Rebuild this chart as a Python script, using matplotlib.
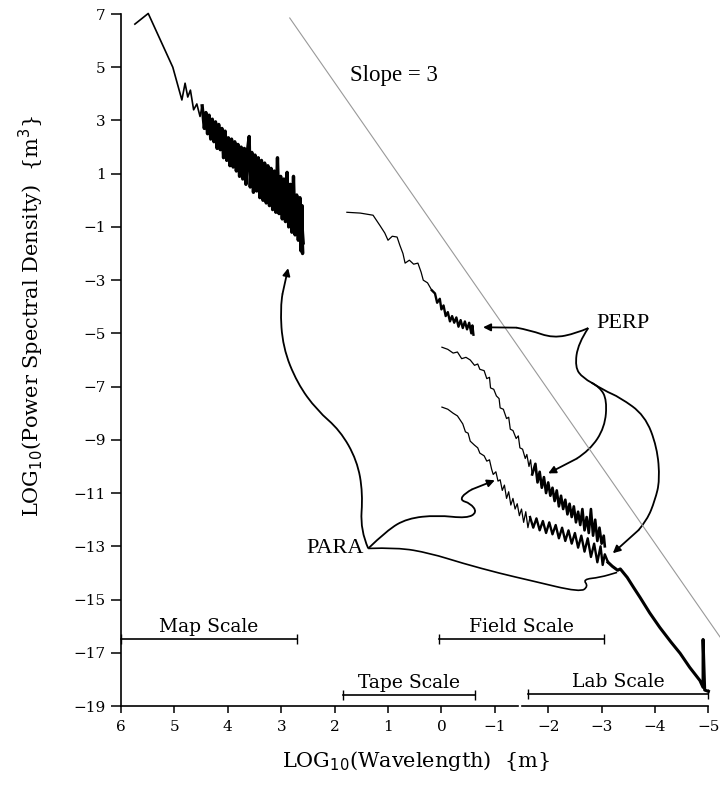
import numpy as np
import matplotlib
matplotlib.use('Agg')
import matplotlib.pyplot as plt
from matplotlib.path import Path
from matplotlib.patches import PathPatch

# ---- data (log10 wavelength, log10 PSD) ----
# map scale spectrum (noisy band)
map_x = [5.74, 5.49, 5.03, 4.86, 4.80, 4.75, 4.70, 4.64, 4.58, 4.52, 4.48,
         4.44, 4.41, 4.38, 4.35, 4.32, 4.29, 4.26, 4.23, 4.20, 4.17, 4.14, 4.11,
         4.08, 4.05, 4.02, 3.99, 3.96, 3.93, 3.90, 3.87, 3.84, 3.81, 3.78, 3.75,
         3.72, 3.69, 3.66, 3.63, 3.60, 3.58, 3.55, 3.52, 3.49, 3.46, 3.43, 3.40,
         3.37, 3.34, 3.31, 3.28, 3.25, 3.22, 3.19, 3.16, 3.13, 3.10, 3.07, 3.04,
         3.01, 2.98, 2.95, 2.92, 2.89, 2.86, 2.83, 2.80, 2.77, 2.74, 2.71, 2.68,
         2.65, 2.63, 2.61, 2.60, 2.62, 2.59]
map_y = [6.62, 7.02, 5.00, 3.77, 4.40, 3.88, 4.14, 3.40, 3.62, 3.15, 3.55,
         2.70, 3.30, 2.50, 3.20, 2.30, 3.05, 2.20, 2.95, 1.95, 2.85, 1.90, 2.70,
         1.60, 2.60, 1.50, 2.35, 1.30, 2.30, 1.25, 2.20, 1.10, 2.10, 0.90, 2.00,
         0.80, 1.95, 0.60, 1.90, 2.40, 0.50, 1.80, 0.30, 1.70, 0.35, 1.60, 0.10,
         1.50, 0.00, 1.40, -0.10, 1.30, -0.20, 1.20, -0.35, 1.10, -0.45, 1.60, -0.50,
         0.90, -0.70, 0.80, -0.80, 1.05, -1.00, 0.60, -1.20, 0.90, -1.30, 0.20, -1.50,
         0.10, -1.90, -0.20, -2.00, -0.60, -1.60]

# field scale spectrum (upper)
field_x = [1.77, 1.52, 1.28, 1.15, 1.06, 1.00, 0.92, 0.83, 0.78, 0.72, 0.68,
           0.60, 0.52, 0.44, 0.38, 0.34, 0.26, 0.18, 0.12, 0.08, 0.03, 0.00,
           -0.04, -0.08, -0.12, -0.16, -0.20, -0.24, -0.28, -0.32, -0.36, -0.40,
           -0.44, -0.48, -0.52, -0.56, -0.58, -0.60]
field_y = [-0.45, -0.48, -0.56, -0.95, -1.23, -1.50, -1.35, -1.38, -1.68, -2.00, -2.36,
           -2.25, -2.40, -2.36, -2.70, -3.00, -3.10, -3.38, -3.50, -3.85, -3.70, -4.10,
           -3.95, -4.35, -4.20, -4.55, -4.35, -4.60, -4.40, -4.75, -4.50, -4.80,
           -4.55, -4.85, -4.60, -5.00, -4.70, -5.05]

# tape / lab spectrum (middle)
mid_x = [-0.01, -0.12, -0.22, -0.30, -0.38, -0.46, -0.54, -0.62, -0.68, -0.72,
         -0.80, -0.85, -0.90, -0.92, -0.98, -1.03, -1.08, -1.10, -1.16, -1.22,
         -1.26, -1.29, -1.34, -1.40, -1.44, -1.47, -1.52, -1.57, -1.60, -1.64,
         -1.67, -1.70, -1.76, -1.80, -1.84, -1.88, -1.92, -1.96, -2.00, -2.04,
         -2.08, -2.12, -2.16, -2.20, -2.24, -2.28, -2.32, -2.36, -2.40, -2.44,
         -2.48, -2.52, -2.56, -2.60, -2.64, -2.68, -2.72, -2.76, -2.80, -2.84,
         -2.88, -2.92, -2.96, -3.00, -3.04, -3.06]
mid_y = [-5.52, -5.60, -5.74, -5.70, -5.95, -5.90, -6.00, -6.20, -6.15, -6.35,
         -6.40, -6.70, -6.65, -7.05, -7.10, -7.35, -7.45, -7.80, -7.85, -8.20,
         -8.15, -8.60, -8.65, -8.95, -8.85, -9.30, -9.35, -9.70, -9.55, -10.00,
         -9.75, -10.30, -9.90, -10.60, -10.20, -10.80, -10.40, -11.00, -10.60, -11.10,
         -10.80, -11.30, -10.90, -11.50, -11.10, -11.60, -11.25, -11.80, -11.40, -11.90,
         -11.50, -12.10, -11.70, -12.20, -11.60, -12.40, -11.90, -12.50, -11.60, -12.60,
         -12.00, -12.80, -12.30, -12.90, -12.60, -13.00]

# tape / lab spectrum (lower, continues to lab scale)
low_x = [-0.01, -0.12, -0.22, -0.30, -0.40, -0.45, -0.50, -0.54, -0.62, -0.68,
         -0.72, -0.80, -0.85, -0.90, -0.94, -0.97, -1.02, -1.06, -1.10, -1.14,
         -1.18, -1.22, -1.26, -1.30, -1.34, -1.38, -1.42, -1.46, -1.50, -1.54,
         -1.58, -1.62, -1.66, -1.72, -1.78, -1.84, -1.90, -1.96, -2.02, -2.08,
         -2.14, -2.20, -2.26, -2.32, -2.38, -2.44, -2.50, -2.56, -2.62, -2.68,
         -2.74, -2.80, -2.86, -2.92, -2.98, -3.02, -3.06, -3.12, -3.20, -3.30,
         -3.35, -3.48, -3.60, -3.72, -3.90, -4.09, -4.30, -4.47, -4.65, -4.84,
         -4.90, -4.90, -4.93, -5.00]
low_y = [-7.77, -7.85, -8.00, -8.10, -8.40, -8.70, -8.75, -9.05, -9.20, -9.30,
         -9.50, -9.60, -9.80, -9.75, -10.10, -10.30, -10.20, -10.55, -10.50, -10.90,
         -10.70, -11.20, -10.95, -11.45, -11.20, -11.60, -11.40, -11.85, -11.60, -12.10,
         -11.70, -12.30, -11.90, -12.30, -11.95, -12.40, -12.05, -12.50, -12.10, -12.55,
         -12.20, -12.70, -12.30, -12.80, -12.40, -12.90, -12.50, -13.05, -12.60, -13.20,
         -12.70, -13.40, -12.90, -13.60, -13.00, -13.70, -13.30, -13.60, -13.75, -13.90,
         -13.85, -14.17, -14.55, -14.92, -15.50, -16.05, -16.60, -17.02, -17.55, -18.04,
         -18.30, -16.50, -18.40, -18.45]

# reference line, slope = 3
slope_x = [2.84, -5.25]
slope_y = [6.85, -16.50]

# measurement scale ranges
scale_names = ['Map Scale', 'Field Scale', 'Tape Scale', 'Lab Scale']
scale_left = [6.0, 0.05, 1.85, -1.63]
scale_right = [2.70, -3.05, -0.63, -5.0]
scale_level = [-16.5, -16.5, -18.6, -18.55]

# annotation arrows (label -> spectrum), hand-drawn style
perp_arrows = [
    ([-2.75, -2.54, -2.09, -1.66, -1.15, -0.78],
     [-4.80, -4.99, -5.18, -4.88, -4.69, -4.77]),
    ([-2.75, -2.56, -2.50, -2.65, -2.97, -3.10, -3.06, -2.78, -2.28, -2.00],
     [-4.80, -5.37, -6.27, -6.68, -7.02, -7.51, -8.53, -9.39, -10.03, -10.26]),
    ([-2.81, -3.05, -3.34, -3.81, -4.04, -4.09, -4.00, -3.85, -3.53, -3.21],
     [-6.85, -7.15, -7.40, -8.08, -9.28, -10.52, -11.27, -12.02, -12.77, -13.26]),
]
para_arrows = [
    ([1.37, 1.52, 1.47, 1.58, 1.90, 2.33, 2.70, 2.97, 3.02, 2.93, 2.87],
     [-13.08, -12.40, -11.00, -9.77, -8.64, -7.89, -6.87, -5.52, -4.02, -3.00, -2.55]),
    ([1.37, 1.02, 0.64, 0.08, -0.48, -0.67, -0.54, -0.35, -0.44, -0.72, -1.00],
     [-13.08, -12.40, -11.95, -11.83, -11.95, -11.72, -11.38, -11.27, -11.00, -10.71, -10.52]),
]
para_line = ([1.37, 0.83, 0.21, -0.40, -1.10, -1.66, -2.60, -2.75, -2.65, -2.97, -3.29],
             [-13.08, -13.04, -13.26, -13.64, -14.02, -14.28, -14.73, -14.50, -14.24, -14.17, -13.98])

y_ticks = list(range(7, -20, -2))
x_ticks = list(range(6, -6, -1))


def smooth_path(xs, ys, open_end=False):
    # quadratic bezier through midpoints, given points used as control points
    pts = list(zip(xs, ys))
    verts = [pts[0]]
    codes = [Path.MOVETO]
    for i in range(1, len(pts) - 1):
        mid = ((pts[i][0] + pts[i + 1][0]) / 2, (pts[i][1] + pts[i + 1][1]) / 2)
        verts += [pts[i], mid]
        codes += [Path.CURVE3, Path.CURVE3]
    if not open_end:
        verts.append(pts[-1])
        codes.append(Path.LINETO)
    return Path(verts, codes), verts[-1]


# ---- plot ----
plt.rcParams['font.family'] = ['DejaVu Serif']
fig = plt.figure(figsize=(7.2, 7.86), dpi=100)
ax = fig.add_axes([121 / 720, 1 - 706 / 786, 599 / 720, 692 / 786])

ax.plot(slope_x, slope_y, color='#999999', lw=0.8)
ax.plot(map_x[:11], map_y[:11], color='k', lw=1.2, clip_on=False)
ax.plot(map_x[10:], map_y[10:], color='k', lw=2.4)
ax.plot(field_x[:18], field_y[:18], color='k', lw=0.9)
ax.plot(field_x[17:], field_y[17:], color='k', lw=1.7)
ax.plot(mid_x[:32], mid_y[:32], color='k', lw=0.9)
ax.plot(mid_x[31:], mid_y[31:], color='k', lw=1.9)
ax.plot(low_x[:33], low_y[:33], color='k', lw=0.9)
ax.plot(low_x[32:58], low_y[32:58], color='k', lw=1.7)
ax.plot(low_x[57:], low_y[57:], color='k', lw=2.2)

for xs, ys in perp_arrows + para_arrows:
    path, end = smooth_path(xs[:-1], ys[:-1], open_end=True)
    ax.add_patch(PathPatch(path, fill=False, color='k', lw=1.3))
    ax.annotate('', xy=(xs[-1], ys[-1]), xytext=end,
                arrowprops=dict(arrowstyle='-|>', color='k', lw=1.3,
                                mutation_scale=11, shrinkA=0, shrinkB=0))
path, _ = smooth_path(*para_line)
ax.add_patch(PathPatch(path, fill=False, color='k', lw=1.2))

for name, x0, x1, lev in zip(scale_names, scale_left, scale_right, scale_level):
    ax.plot([x0, x1], [lev, lev], color='k', lw=1.2, marker='|', markersize=7,
            clip_on=False)
    ax.text((x0 + x1) / 2, lev + 0.12, name, ha='center', va='bottom', fontsize=13.5)

ax.text(1.71, 4.7, 'Slope = 3', family='Liberation Serif', fontsize=16.5, va='center')
ax.text(-2.91, -4.62, 'PERP', family='Liberation Serif', fontsize=16, va='center')
ax.text(2.52, -13.08, 'PARA', family='Liberation Serif', fontsize=16, va='center')

ax.set_xlim(6, -5.217)
ax.set_ylim(-19, 7)
ax.set_yticks(y_ticks)
ax.set_xticks(x_ticks)
for s in ['top', 'right', 'bottom']:
    ax.spines[s].set_visible(False)
ax.spines['left'].set_linewidth(1.2)
# bottom axis drawn in two pieces (break near -1.5)
ax.plot([6, -1.43], [-19, -19], color='k', lw=1.2, clip_on=False)
ax.plot([-1.50, -5.0], [-19, -19], color='k', lw=1.2, clip_on=False)
ax.tick_params(axis='y', direction='out', length=7, width=1.1, labelsize=11, pad=4)
ax.tick_params(axis='x', direction='out', length=5, width=1.1, labelsize=11, pad=5)

ax.set_ylabel('LOG$_{10}$(Power Spectral Density)  {m$^3$}', fontsize=15)
ax.yaxis.set_label_coords(-0.125, 0.5636)
ax.set_xlabel('LOG$_{10}$(Wavelength)  {m}', fontsize=15, va='top')
ax.xaxis.set_label_coords(0.4925, -0.062)

fig.savefig('out.png', dpi=100)
